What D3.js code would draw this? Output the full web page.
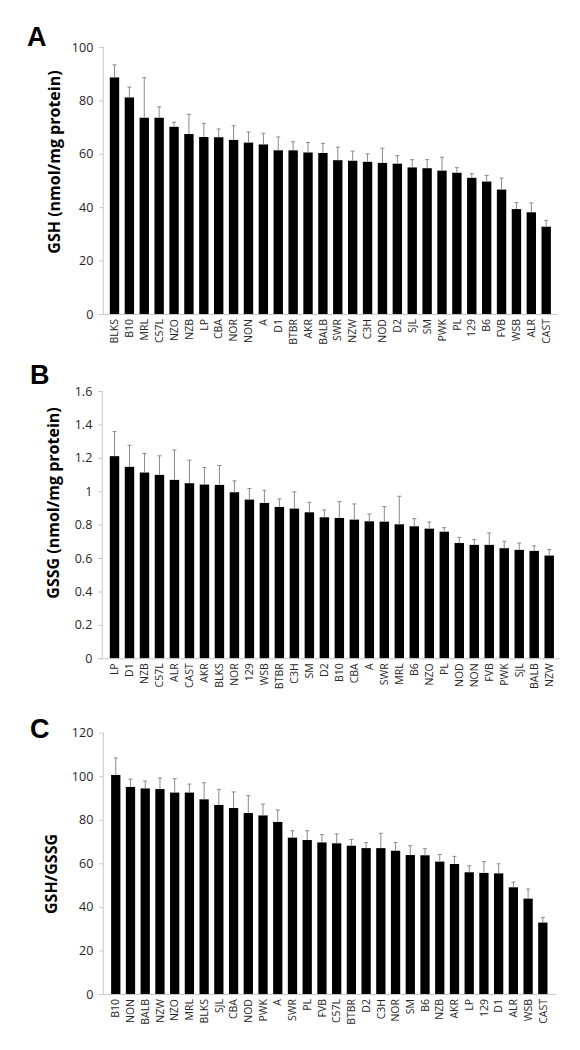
<!DOCTYPE html>
<html>
<head>
<meta charset="utf-8">
<script src="https://cdn.jsdelivr.net/npm/d3@7"></script>
<style>
  html, body { margin: 0; padding: 0; background: #fff; }
  svg { display: block; }
</style>
</head>
<body>
<div id="chart"></div>
<script>
// ---------- Data ----------
const catsA = ["BLKS","B10","MRL","C57L","NZO","NZB","LP","CBA","NOR","NON","A","D1","BTBR","AKR","BALB","SWR","NZW","C3H","NOD","D2","SJL","SM","PWK","PL","129","B6","FVB","WSB","ALR","CAST"];
const valsA = [88.6,81.1,73.5,73.5,70.1,67.4,66.3,66.2,65.2,64.2,63.5,61.3,61.3,60.5,60.3,57.6,57.4,57.0,56.6,56.3,54.9,54.6,53.7,52.9,51.0,49.6,46.6,39.3,38.1,32.7];
const errA  = [4.7,3.9,15.0,4.1,1.7,7.4,5.1,3.1,5.3,4.0,4.2,5.0,3.2,3.7,3.6,4.9,3.6,3.0,5.5,3.0,2.9,3.2,5.0,1.9,1.5,2.3,4.3,2.4,3.5,2.4];
const ticksA = [0,20,40,60,80,100];

const catsB = ["LP","D1","NZB","C57L","ALR","CAST","AKR","BLKS","NOR","129","WSB","BTBR","C3H","SM","D2","B10","CBA","A","SWR","MRL","B6","NZO","PL","NOD","NON","FVB","PWK","SJL","BALB","NZW"];
const valsB = [1.21,1.146,1.112,1.098,1.068,1.048,1.04,1.038,0.994,0.95,0.93,0.906,0.896,0.874,0.844,0.84,0.83,0.82,0.818,0.802,0.79,0.776,0.758,0.69,0.679,0.679,0.659,0.649,0.643,0.615];
const errB  = [0.147,0.129,0.114,0.114,0.179,0.138,0.102,0.116,0.068,0.066,0.076,0.048,0.10,0.06,0.044,0.098,0.094,0.044,0.09,0.168,0.046,0.04,0.024,0.034,0.031,0.071,0.041,0.041,0.03,0.036];
const ticksB = [0,0.2,0.4,0.6,0.8,1,1.2,1.4,1.6];

const catsC = ["B10","NON","BALB","NZW","NZO","MRL","BLKS","SJL","CBA","NOD","PWK","A","SWR","PL","FVB","C57L","BTBR","D2","C3H","NOR","SM","B6","NZB","AKR","LP","129","D1","ALR","WSB","CAST"];
const valsC = [100.6,95.1,94.4,94.1,92.5,92.5,89.4,86.8,85.4,83.1,82.0,79.0,71.8,70.7,69.6,69.2,68.1,67.0,67.0,65.8,63.8,63.7,60.8,59.7,55.9,55.6,55.4,49.0,43.8,32.8];
const errC  = [7.8,3.6,3.4,5.1,6.4,3.9,7.6,7.2,7.4,8.0,5.2,5.5,3.2,4.3,3.6,4.3,2.9,2.5,6.8,3.8,4.3,3.0,3.3,3.5,3.0,5.2,4.4,2.4,4.4,2.4];
const ticksC = [0,20,40,60,80,100,120];

const panelLetters = ["A","B","C"];
const yTitles = ["GSH (nmol/mg protein)","GSSG (nmol/mg protein)","GSH/GSSG"];

// ---------- Layout ----------
const W = 580, H = 1050;
const svg = d3.select("#chart").append("svg").attr("width", W).attr("height", H);

const panels = [
  { cats: catsA, vals: valsA, err: errA, ticks: ticksA, max: 100,
    axisX: [103.3, 557.3], band: [107.05, 553.65], y: [314, 47],
    letter: [27, 46], title: [54, 162] },
  { cats: catsB, vals: valsB, err: errB, ticks: ticksB, max: 1.6,
    axisX: [102.3, 560], band: [107.0, 556.7], y: [658.3, 391],
    letter: [30, 384], title: [53, 503] },
  { cats: catsC, vals: valsC, err: errC, ticks: ticksC, max: 120,
    axisX: [103.3, 556], band: [108.4, 550.2], y: [994, 732.7],
    letter: [30, 738], title: [51, 874] }
];

const axisColor = "#c8c8c8";
const textColor = "#262626";
const fontFam = "'Open Sans', 'Noto Sans', sans-serif";

panels.forEach((p, k) => {
  const g = svg.append("g");
  const x = d3.scaleBand().domain(p.cats).range(p.band).paddingInner(0.37).paddingOuter(0.185);
  const y = d3.scaleLinear().domain([0, p.max]).range(p.y);

  // y axis
  const yAxis = d3.axisLeft(y).tickValues(p.ticks).tickSize(4).tickPadding(6)
    .tickFormat(d => d3.format("~g")(d));
  const ya = g.append("g").attr("transform", `translate(${p.axisX[0]},0)`).call(yAxis);
  ya.select(".domain").attr("stroke", axisColor).attr("d", `M0,${p.y[0]}V${p.y[1]}`);
  ya.selectAll(".tick line").attr("stroke", axisColor);
  ya.selectAll(".tick text").attr("fill", textColor).style("font-family", fontFam).style("font-size", "12.5px");

  // bars
  const data = p.cats.map((c, i) => ({ c, v: p.vals[i], e: p.err[i] }));
  g.selectAll("rect.bar").data(data).join("rect")
    .attr("class", "bar")
    .attr("x", d => x(d.c))
    .attr("width", x.bandwidth())
    .attr("y", d => y(d.v))
    .attr("height", d => y(0) - y(d.v))
    .attr("fill", "#000");

  // error bars (upper)
  const eg = g.append("g").attr("stroke", "#8a8a8a").attr("stroke-width", 1);
  eg.selectAll("line.ev").data(data).join("line")
    .attr("x1", d => x(d.c) + x.bandwidth() / 2).attr("x2", d => x(d.c) + x.bandwidth() / 2)
    .attr("y1", d => y(d.v)).attr("y2", d => y(d.v + d.e));
  eg.selectAll("line.ec").data(data).join("line")
    .attr("x1", d => x(d.c) + x.bandwidth() / 2 - 2).attr("x2", d => x(d.c) + x.bandwidth() / 2 + 2)
    .attr("y1", d => y(d.v + d.e)).attr("y2", d => y(d.v + d.e));

  // x axis
  const xAxis = d3.axisBottom(x).tickSize(0).tickPadding(0);
  const xa = g.append("g").attr("transform", `translate(0,${p.y[0]})`).call(xAxis);
  xa.select(".domain").attr("stroke", axisColor).attr("d", `M${p.axisX[0] - 4},0.5H${p.axisX[1]}`);
  xa.selectAll(".tick text")
    .attr("fill", textColor)
    .style("font-family", fontFam).style("font-size", "10.5px")
    .attr("transform", "rotate(-90)")
    .attr("text-anchor", "end")
    .attr("x", -5).attr("y", 0).attr("dy", "0.35em");

  // y title
  svg.append("text")
    .attr("transform", `translate(${p.title[0]},${p.title[1]}) rotate(-90)`)
    .attr("text-anchor", "middle").attr("dy", "0.35em")
    .style("font-family", fontFam).style("font-weight", "bold").style("font-size", "16px")
    .attr("fill", "#000")
    .text(yTitles[k]);

  // panel letter
  svg.append("text")
    .attr("x", p.letter[0]).attr("y", p.letter[1])
    .style("font-family", "'Liberation Sans', Arial, sans-serif").style("font-weight", "bold").style("font-size", "27px")
    .attr("fill", "#000")
    .text(panelLetters[k]);
});
</script>
</body>
</html>
